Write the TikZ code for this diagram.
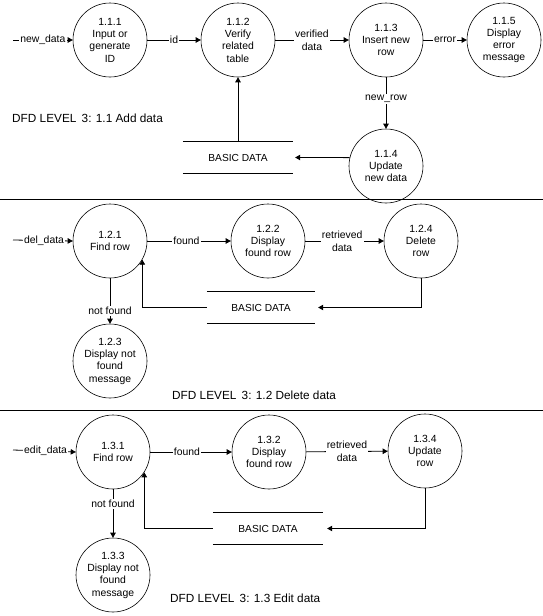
\documentclass[tikz,border=0pt]{standalone}
\usepackage{fontspec}
\setmainfont{Liberation Sans}
\usetikzlibrary{arrows.meta}
\begin{document}
\begin{tikzpicture}[x=1pt,y=-1pt,
  proc/.style={circle,draw,line width=0.6pt,minimum size=74pt,inner sep=0pt,align=center,font=\fontsize{10.4}{12.3}\selectfont},
  arr/.style={line width=0.8pt,-{Triangle[length=5pt,width=5.5pt]}},
  lbl/.style={fill=white,inner sep=1.2pt,font=\fontsize{10.4}{13}\selectfont,align=center},
  store/.style={minimum height=31pt,inner sep=0pt,font=\fontsize{10.2}{12}\selectfont},
  storeline/.style={line width=0.8pt},
  captext/.style={anchor=west,inner sep=0pt,font=\fontsize{11.8}{14}\selectfont},
  sepline/.style={line width=1pt}]
\useasboundingbox (0,0) rectangle (543,616);

% ---------- Section 1 ----------
\node[proc] (n111) at (110,40) {1.1.1\\Input or\\generate\\ID};
\node[proc] (n112) at (238,40) {1.1.2\\Verify\\related\\table};
\node[proc] (n113) at (386,40) {1.1.3\\Insert new\\row};
\node[proc] (n115) at (504,40) {1.1.5\\Display\\error\\message};
\node[proc] (n114) at (386,166) {1.1.4\\Update\\new data};
\node[store,minimum width=110pt] (s1) at (238,157.5) {BASIC DATA};
\draw[storeline] (s1.north west) -- (s1.north east);
\draw[storeline] (s1.south west) -- (s1.south east);
\coordinate (in1) at (13,40);
\coordinate (s1t) at ([xshift=2pt]s1.east);

\draw[arr] (in1) -- node[lbl,pos=0.5] {new\_data} (n111.west);
\draw[arr] (n111) -- node[lbl] {id} (n112);
\draw[arr] (n112) -- node[lbl] {verified\\data} (n113);
\draw[arr] (n113) -- node[lbl] {error} (n115);
\draw[arr] (n113) -- node[lbl,pos=0.42] {new\_row} (n114);
\draw[arr] (s1.north) -- (n112.south);
\draw[arr] (n114.167.5) -- (s1t);
\node[captext] (c1) at (12,118) {DFD LEVEL\, 3: 1.1 Add data};

\draw[sepline] (0,199) -- (543,199);

% ---------- Section 2 ----------
\node[proc] (n121) at (110,241) {1.2.1\\Find row};
\node[proc] (n122) at (268,241) {1.2.2\\Display\\found row};
\node[proc] (n124) at (421,241) {1.2.4\\Delete\\row};
\node[proc] (n123) at (110,361) {1.2.3\\Display not\\found\\message};
\node[store,minimum width=108pt] (s2) at (261,307.5) {BASIC DATA};
\draw[storeline] (s2.north west) -- (s2.north east);
\draw[storeline] (s2.south west) -- (s2.south east);
\coordinate (in2) at (13,240);
\coordinate (s2t) at ([xshift=3pt]s2.east);

\draw[arr] (in2) -- node[lbl,pos=0.52] {del\_data} (n121.west);
\draw[arr] (n121) -- node[lbl,pos=0.47] {found} (n122);
\draw[arr] (n122) -- node[lbl,pos=0.47] {retrieved\\data} (n124);
\draw[arr] (n121) -- node[lbl,pos=0.72] {not found} (n123);
\draw[arr] (n124.south) |- (s2t);
\draw[arr] (s2.west) -| (n121.-30);
\node[captext] (c2) at (172,395) {DFD LEVEL\, 3: 1.2 Delete data};

\draw[sepline] (0,410) -- (543,410);

% ---------- Section 3 ----------
\node[proc] (n131) at (113,452) {1.3.1\\Find row};
\node[proc] (n132) at (269,452) {1.3.2\\Display\\found row};
\node[proc] (n134) at (425,451) {1.3.4\\Update\\row};
\node[proc] (n133) at (113,575) {1.3.3\\Display not\\found\\message};
\node[store,minimum width=110pt] (s3) at (268,528.5) {BASIC DATA};
\draw[storeline] (s3.north west) -- (s3.north east);
\draw[storeline] (s3.south west) -- (s3.south east);
\coordinate (in3) at (13,450);
\coordinate (s3t) at ([xshift=4pt]s3.east);

\draw[arr] (in3) -- node[lbl,pos=0.52] {edit\_data} (n131.west);
\draw[arr] (n131) -- node[lbl,pos=0.45] {found} (n132);
\draw[arr] (n132) -- node[lbl,pos=0.5] {retrieved\\data} (n134);
\draw[arr] (n131) -- node[lbl,pos=0.3] {not found} (n133);
\draw[arr] (n134.south) |- (s3t);
\draw[arr] (s3.west) -| (n131.-33);
\node[captext] (c3) at (170,598) {DFD LEVEL\, 3: 1.3 Edit data};
\end{tikzpicture}
\end{document}
